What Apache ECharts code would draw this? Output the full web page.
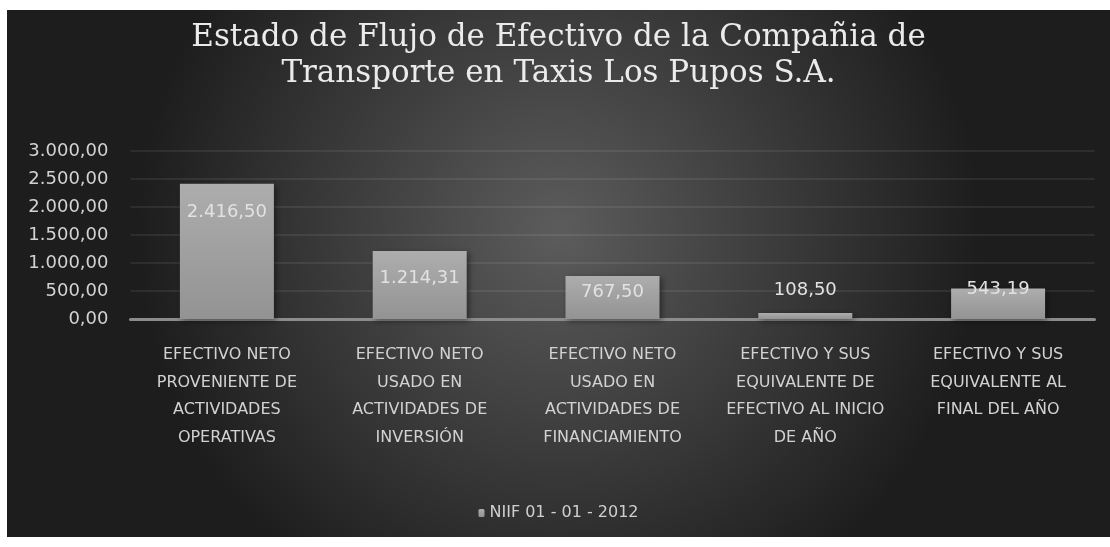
<!DOCTYPE html>
<html>
<head>
<meta charset="utf-8">
<script src="https://cdn.jsdelivr.net/npm/echarts@6/dist/echarts.min.js"></script>
<style>
  html, body { margin: 0; padding: 0; background: #ffffff; }
  #main { position: absolute; left: 7px; top: 10px; width: 1103px; height: 527px; }
</style>
</head>
<body>
<div id="main"></div>
<script>
const titleText = 'Estado de Flujo de Efectivo de la Compañia de\nTransporte en Taxis Los Pupos S.A.'
const seriesName = 'NIIF 01 - 01 - 2012'
const categories = [
  'EFECTIVO NETO\nPROVENIENTE DE\nACTIVIDADES\nOPERATIVAS',
  'EFECTIVO NETO\nUSADO EN\nACTIVIDADES DE\nINVERSIÓN',
  'EFECTIVO NETO\nUSADO EN\nACTIVIDADES DE\nFINANCIAMIENTO',
  'EFECTIVO Y SUS\nEQUIVALENTE DE\nEFECTIVO AL INICIO\nDE AÑO',
  'EFECTIVO Y SUS\nEQUIVALENTE AL\nFINAL DEL AÑO'
]
const values = [2416.50, 1214.31, 767.50, 108.50, 543.19]
const yTicks = { min: 0, max: 3000, interval: 500 }

// formato es-ES: 2.416,50
function fmt(v) {
  const parts = Number(v).toFixed(2).split('.')
  parts[0] = parts[0].replace(/\B(?=(\d{3})+(?!\d))/g, '.')
  return parts.join(',')
}

// posición de etiqueta por barra (estilo, no datos)
const labelPlacement = [
  { position: 'insideTop', distance: 20 },
  { position: 'insideTop', distance: 18 },
  { position: 'insideTop', distance: 7 },
  { position: 'top', distance: 14 },
  { position: 'insideTop', distance: -8 }
]

const chart = echarts.init(document.getElementById('main'))
chart.setOption({
  backgroundColor: new echarts.graphic.RadialGradient(0.5, 0.42, 0.8, [
    { offset: 0, color: '#5c5c5c' },
    { offset: 1, color: '#1d1d1d' }
  ]),
  title: {
    text: titleText,
    left: 'center',
    top: 5,
    textStyle: {
      fontFamily: 'DejaVu Serif',
      fontWeight: 'normal',
      fontSize: 31,
      lineHeight: 36,
      color: '#ebebeb'
    }
  },
  legend: {
    data: [seriesName],
    bottom: 11,
    left: 'center',
    itemWidth: 6,
    itemHeight: 8,
    itemGap: 6,
    textStyle: { color: '#cfcfcf', fontSize: 16, fontFamily: 'DejaVu Sans' }
  },
  grid: {
    left: 123.5,
    right: 15.5,
    top: 141,
    bottom: 218
  },
  xAxis: {
    type: 'category',
    data: categories,
    axisLine: { lineStyle: { color: '#8c8c8c', width: 3 } },
    axisTick: { show: false },
    axisLabel: {
      color: '#d2d2d2',
      fontSize: 16,
      lineHeight: 27.7,
      fontFamily: 'DejaVu Sans',
      margin: 22,
      interval: 0
    }
  },
  yAxis: {
    type: 'value',
    min: yTicks.min,
    max: yTicks.max,
    interval: yTicks.interval,
    axisLine: { show: false },
    axisTick: { show: false },
    splitLine: { lineStyle: { color: 'rgba(255,255,255,0.1)', width: 1.5 } },
    axisLabel: {
      color: '#d2d2d2',
      fontSize: 18,
      fontFamily: 'DejaVu Sans',
      margin: 22,
      formatter: fmt
    }
  },
  series: [
    {
      name: seriesName,
      type: 'bar',
      barWidth: 94,
      data: values.map((v, i) => ({
        value: v,
        label: labelPlacement[i]
      })),
      itemStyle: {
        color: new echarts.graphic.LinearGradient(0, 0, 0, 1, [
          { offset: 0, color: '#adadad' },
          { offset: 1, color: '#939393' }
        ]),
        shadowColor: 'rgba(0,0,0,0.45)',
        shadowBlur: 6,
        shadowOffsetX: 2,
        shadowOffsetY: 2
      },
      label: {
        show: true,
        color: '#e2e2e2',
        fontSize: 18,
        fontFamily: 'DejaVu Sans',
        formatter: p => fmt(p.value)
      }
    }
  ]
})
</script>
</body>
</html>
